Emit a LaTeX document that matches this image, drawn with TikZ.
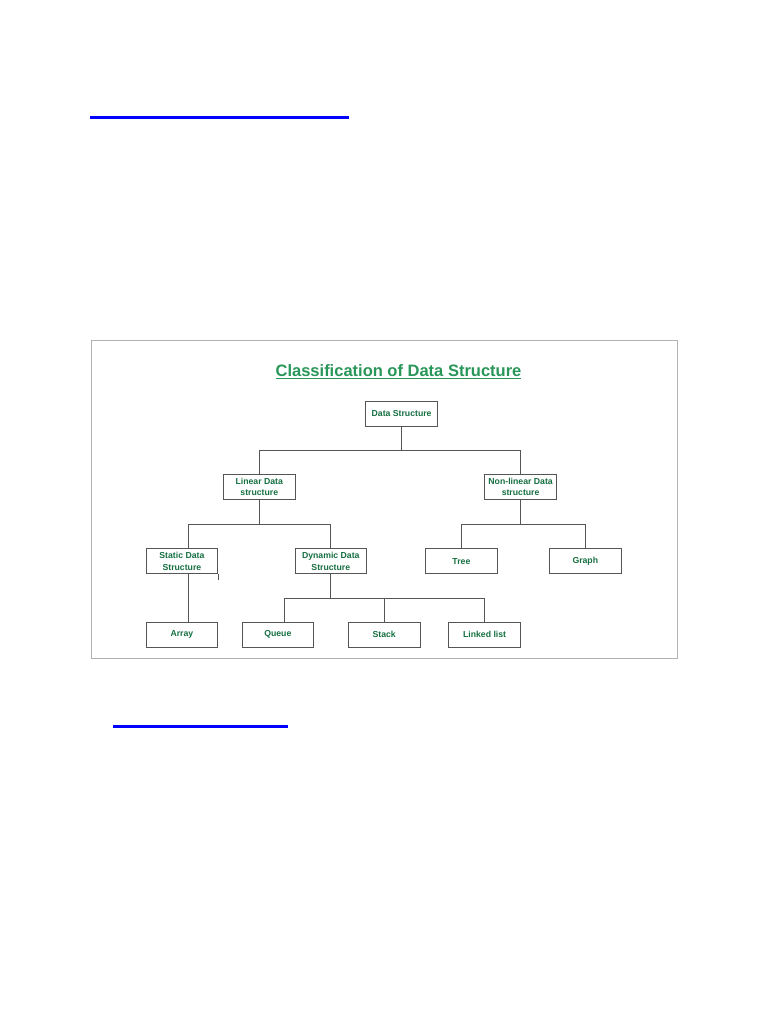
\documentclass[tikz,border=0pt]{standalone}
\usepackage{fontspec}
\setmainfont{Liberation Sans}
\usetikzlibrary{
    positioning,
    calc
}
\definecolor{titlegreen}{RGB}{40,150,88}
\definecolor{labelgreen}{RGB}{22,112,66}
\definecolor{wiregray}{RGB}{85,85,85}
\definecolor{framegray}{RGB}{178,178,178}
\definecolor{linkblue}{RGB}{0,0,255}
\tikzset{
    % --- Classification box (one entry of the tree) ---
    ds box/.style = {
        rectangle, draw=wiregray, line width=0.9pt,
        minimum width=71.5pt, minimum height=25pt,
        inner sep=1pt, align=center, text=labelgreen,
        font=\fontsize{8.7}{11.4}\selectfont\bfseries
    },
    % --- Tree branch line ---
    branch/.style = {
        draw=wiregray, line width=1pt
    },
    % --- Heading of the figure ---
    heading/.style = {
        text=titlegreen,
        font=\fontsize{16.5}{19}\selectfont\bfseries
    },
    % --- Figure frame ---
    figure frame/.style = {
        draw=framegray, line width=0.8pt
    },
    % --- Hyperlink underline ---
    link bar/.style = {
        linkblue, line width=3pt
    }
}
\begin{document}
\begin{tikzpicture}[x=1pt, y=-1pt]

% ---------------------------------------------------------
% Page
% ---------------------------------------------------------
\path[use as bounding box, fill=white] (0,0) rectangle (768,1024);
\draw[link bar] (90,118) -- (349,118);
\draw[link bar] (113,726) -- (288,726);
\draw[figure frame] (91,340.7) rectangle (677.5,658.3);

% ---------------------------------------------------------
% Heading
% ---------------------------------------------------------
\node[heading] (Title) at (398.5,372) {\underline{Classification of Data Structure}};

% ---------------------------------------------------------
% Boxes
% ---------------------------------------------------------
\node[ds box] (DS) at (401.6,413.5) {Data Structure};
\node[ds box] (Lin) at (259.3,487) {Linear Data\\structure};
\node[ds box] (NonLin) at (520.6,487) {Non-linear Data\\structure};

\node[ds box] (Stat) at (181.9,561.2) {Static Data\\Structure};
\node[ds box, right=76.5pt of Stat] (Dyn) {Dynamic Data\\Structure};
\node[ds box, right=58.2pt of Dyn] (Tree) {Tree};
\node[ds box, right=51.5pt of Tree] (Graph) {Graph};

\node[ds box] (Arr) at (181.9,634.8) {Array};
\node[ds box, right=23.5pt of Arr] (Que) {Queue};
\node[ds box, right=34pt of Que] (Stk) {Stack};
\node[ds box, right=28pt of Stk] (LL) {Linked list};

% ---------------------------------------------------------
% Branches
% ---------------------------------------------------------
\draw[branch] (DS.south) -- ++(0,23.7) coordinate (dsBus);
\draw[branch] (Lin.north) |- (dsBus) -| (NonLin.north);

\draw[branch] (Lin.south) -- ++(0,24.5) coordinate (linBus);
\draw[branch] ($(Stat.north)+(6.6,0)$) |- (linBus) -| (Dyn.north);

\draw[branch] (NonLin.south) -- ++(0,24.5) coordinate (nlBus);
\draw[branch] (Tree.north) |- (nlBus) -| (Graph.north);

\draw[branch] ($(Stat.south)+(6.6,0)$) -- ($(Arr.north)+(6.6,0)$);
\draw[branch] (Stat.south east) -- ++(0,5.5);

\draw[branch] (Dyn.south) -- ++(0,24.8) coordinate (dynBus);
\draw[branch] ($(Que.north)+(6.3,0)$) |- (dynBus) -| (LL.north);
\draw[branch] (Stk.north) -- (Stk.north |- dynBus);

\end{tikzpicture}
\end{document}
